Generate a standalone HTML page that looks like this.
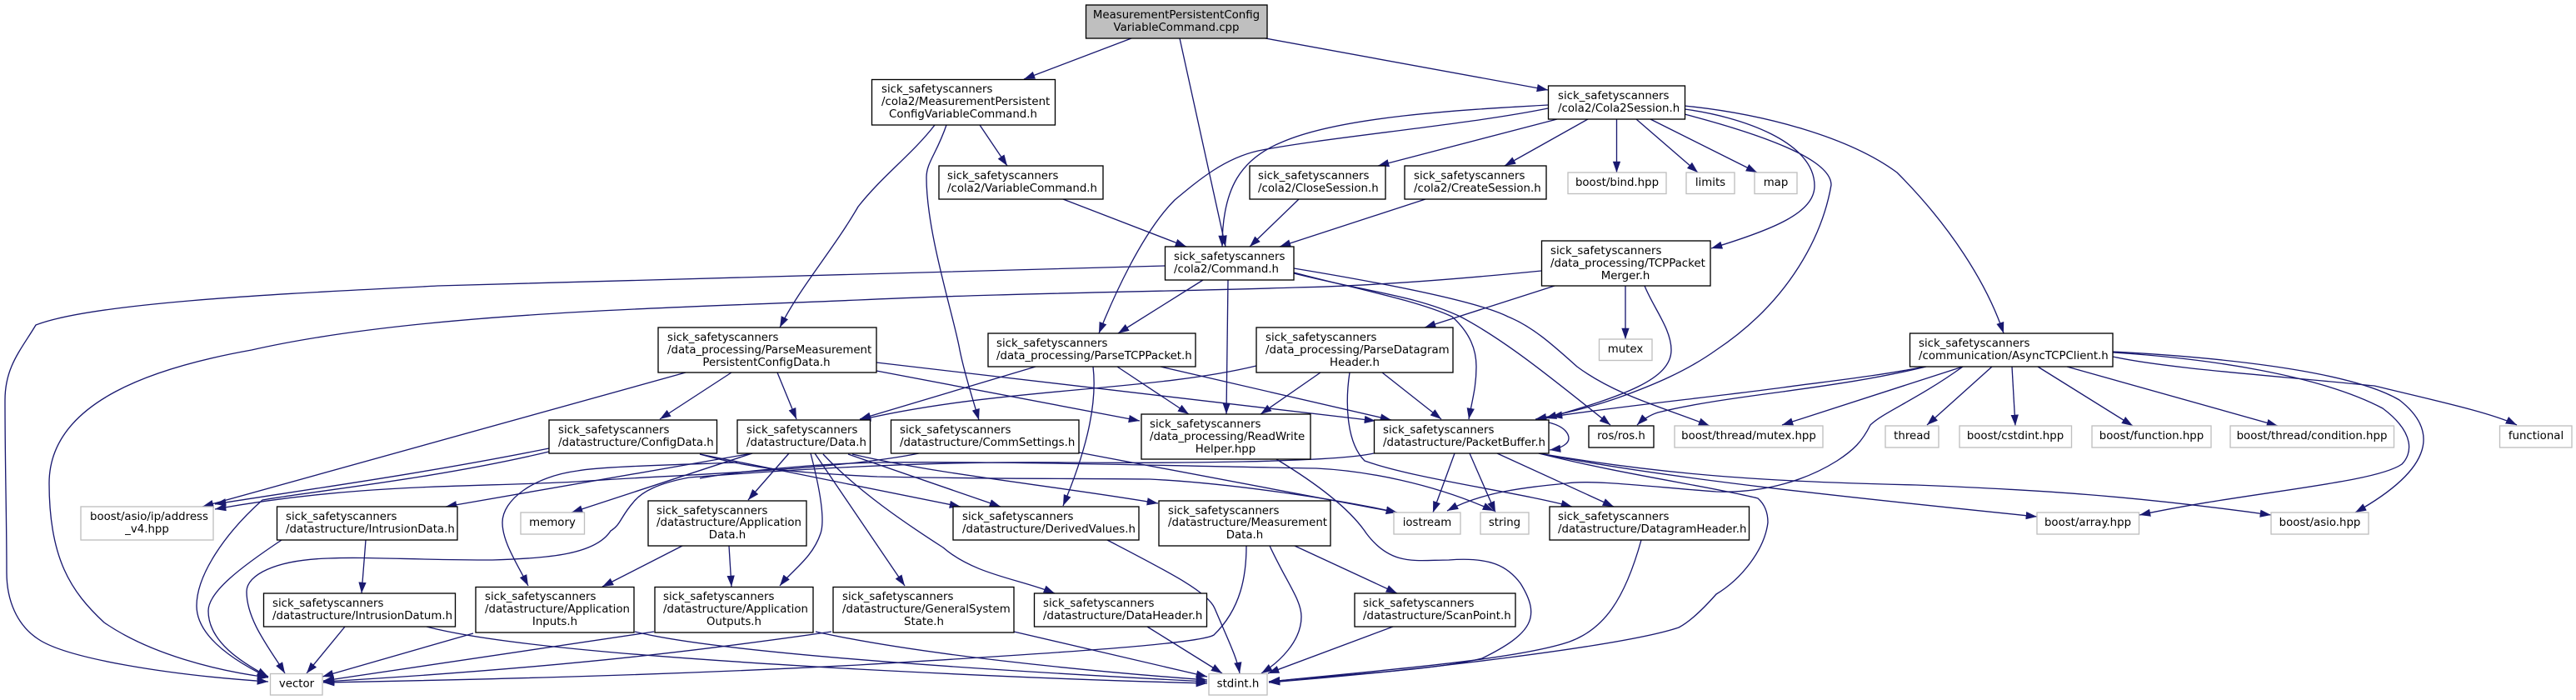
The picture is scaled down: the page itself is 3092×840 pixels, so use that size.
<!DOCTYPE html>
<html><head><meta charset="utf-8"><style>
html,body{margin:0;padding:0;background:#fff}
svg{display:block}
text{font-family:"DejaVu Sans",sans-serif;font-size:13.33px;fill:#000}
.m{text-anchor:middle}
.b rect{fill:#fff;stroke:#000;stroke-width:1.33}
.g rect{fill:#fff;stroke:#bfbfbf;stroke-width:1.33}
.e path{fill:none;stroke:#191970;stroke-width:1.33;marker-end:url(#a)}
</style></head><body>
<svg width="3092" height="840" viewBox="0 0 3092 840" xmlns="http://www.w3.org/2000/svg">
<defs><marker id="a" markerUnits="userSpaceOnUse" markerWidth="14" markerHeight="10" refX="13.3" refY="4.65" orient="auto"><path d="M0 0L13.3 4.65L0 9.3z" style="fill:#191970;stroke:none"/></marker></defs>
<rect width="3092" height="840" fill="#fff"/>
<g class="e">
<path d="M1358 46L1229 95"/>
<path d="M1416 46L1471 296"/>
<path d="M1519 46L1858 108"/>
<path d="M1176 150L1209 199"/>
<path d="M1122 150C1095 185 1060 210 1030 248C1000 300 960 345 936 393"/>
<path d="M1136 150C1124 185 1112 195 1112 213C1112 280 1145 380 1152 420C1158 450 1168 480 1175 504"/>
<path d="M1276 239L1424 296"/>
<path d="M1559 239L1500 296"/>
<path d="M1711 239L1536 296"/>
<path d="M1869 143L1654 199"/>
<path d="M1906 143L1806 199"/>
<path d="M1940.5 143L1940.5 207"/>
<path d="M1964 143L2038 207"/>
<path d="M1981 143L2109 207"/>
<path d="M1858 126C1750 132 1610 140 1540 170C1490 190 1467 225 1467 296"/>
<path d="M1858 130C1760 150 1590 165 1510 181C1470 190 1440 215 1410 240C1370 280 1335 360 1319 400"/>
<path d="M2022 127C2120 137 2220 165 2277 207C2340 270 2385 340 2405 400"/>
<path d="M2022 131C2090 140 2178 170 2178 223C2178 255 2130 275 2054 298"/>
<path d="M2022 137C2110 160 2198 190 2198 222C2188 280 2150 360 2060 420C2025 445 1985 462 1943 477C1915 487 1880 496 1843 503"/>
<path d="M1444 336L1342 400"/>
<path d="M1474 336L1472 497"/>
<path d="M1398 319C1200 325 1000 332 525 343C400 350 120 360 43 390C25 420 6 440 6 480C6 560 8 620 8 687C8 720 20 750 46 767C80 790 200 810 322 818"/>
<path d="M1850 325C1750 335 1650 343 1555 345C1400 350 1200 352 1030 360C800 370 500 375 302 420C190 440 59 480 59 580C59 670 85 710 125 747C180 785 260 805 322 813"/>
<path d="M1553 322C1650 338 1770 360 1810 380C1840 392 1865 415 1893 440C1940 475 2000 490 2052 511"/>
<path d="M1553 327C1620 345 1700 360 1743 380C1765 400 1772 420 1772 440C1772 465 1767 480 1763 503"/>
<path d="M1553 328C1640 350 1700 355 1753 380C1810 410 1870 460 1933 510"/>
<path d="M1866 343L1710 393"/>
<path d="M1951 343L1951 407"/>
<path d="M1974 343C1985 370 2006 395 2006 420C2006 455 1950 475 1855 502"/>
<path d="M2310 440C2250 452 2190 458 2140 465C2050 477 1950 487 1862 500"/>
<path d="M2312 440C2250 455 2190 463 2140 470C2080 478 2030 485 1990 495C1980 498 1970 505 1965 510"/>
<path d="M1243 440L1032 503"/>
<path d="M1341 440L1427 497"/>
<path d="M1393 440L1670 504"/>
<path d="M1312 440C1318 490 1300 550 1276 607"/>
<path d="M1508 439C1380 470 1200 465 1032 504"/>
<path d="M1585 447L1513 497"/>
<path d="M1659 447L1730 503"/>
<path d="M1620 447C1615 480 1615 530 1638 553C1700 575 1820 590 1887 608"/>
<path d="M933 447L956 503"/>
<path d="M878 447L792 503"/>
<path d="M823 447L243 608"/>
<path d="M1052 445L1368 505"/>
<path d="M1052 435L1651 505"/>
<path d="M659 538C500 570 350 590 258 605"/>
<path d="M659 542C520 575 370 590 315 600C270 640 236 690 236 727C236 765 285 795 322 813"/>
<path d="M840 545C900 562 950 567 1053 572C1200 575 1300 574 1380 575C1480 580 1610 600 1677 615"/>
<path d="M840 545L1153 608"/>
<path d="M903 544L535 608"/>
<path d="M903 544L686 615"/>
<path d="M947 544L898 600"/>
<path d="M973 544C985 590 990 625 985 640C975 670 950 685 936 703"/>
<path d="M885 555C800 558 720 560 693 565C640 572 603 600 603 627C603 650 620 675 634 703"/>
<path d="M978 544L1086 703"/>
<path d="M988 545C1030 590 1090 630 1132 657C1170 690 1225 695 1266 712"/>
<path d="M1018 545L1201 608"/>
<path d="M1023 545C1130 570 1260 582 1390 604"/>
<path d="M1295 543L1677 615"/>
<path d="M1103 544C1000 565 800 570 693 578C560 585 430 580 258 611"/>
<path d="M1649 544C1600 555 1400 556 1280 555C1100 553 930 565 827 573C790 580 770 590 760 603C745 620 745 630 733 637C715 665 660 670 591 672C500 672 440 668 394 670C330 672 296 690 296 710C296 745 325 780 342 808"/>
<path d="M840 574C900 563 1000 556 1053 555C1200 553 1450 560 1580 562C1640 565 1720 580 1793 613"/>
<path d="M439 648L434 712"/>
<path d="M338 648C290 680 250 710 250 733C250 770 290 795 322 812"/>
<path d="M414 752L368 808"/>
<path d="M512 752C600 775 800 790 1030 803C1200 812 1330 817 1449 820"/>
<path d="M819 655L723 704"/>
<path d="M875 655L878 704"/>
<path d="M568 760L387 812"/>
<path d="M762 758C850 780 1100 800 1449 818"/>
<path d="M785 758L388 817"/>
<path d="M979 758C1100 785 1300 805 1449 816"/>
<path d="M998 758C880 775 700 800 388 818"/>
<path d="M1217 758L1449 812"/>
<path d="M1377 752L1467 808"/>
<path d="M1329 648C1400 685 1450 710 1458 730C1475 770 1485 790 1488 808"/>
<path d="M1496 655C1496 690 1490 730 1457 762C1440 772 1300 782 1030 798C800 810 600 815 388 819"/>
<path d="M1524 655C1545 700 1562 720 1562 740C1562 770 1535 795 1514 808"/>
<path d="M1554 655L1677 712"/>
<path d="M1672 752L1522 808"/>
<path d="M1970 648C1950 720 1925 755 1884 770C1820 792 1650 805 1523 818"/>
<path d="M1532 551C1580 580 1620 610 1640 640C1670 680 1700 672 1739 672C1790 668 1810 680 1825 700C1850 740 1840 760 1779 790C1720 805 1600 810 1523 818"/>
<path d="M1847 544C1950 570 2060 585 2110 598C2118 605 2122 615 2122 627C2118 660 2090 695 2060 713C2045 730 2030 745 2015 753C1950 775 1700 805 1523 819"/>
<path d="M1847 544C2000 575 2250 600 2445 620"/>
<path d="M1847 544C2000 570 2120 578 2300 582C2450 588 2560 595 2726 618"/>
<path d="M1797 544L1937 608"/>
<path d="M1746 544L1720 615"/>
<path d="M1764 544L1795 615"/>
<path d="M1859 507C1880 512 1883 522 1883 526C1883 532 1875 538 1860 540"/>
<path d="M2356 440C2300 480 2260 495 2245 510C2235 530 2225 540 2205 553C2170 575 2120 592 2060 590C1990 585 1910 575 1880 580C1830 585 1780 590 1737 613"/>
<path d="M2356 440L2139 510"/>
<path d="M2391 440L2313 510"/>
<path d="M2415 440L2419 511"/>
<path d="M2446 440L2560 511"/>
<path d="M2481 440L2734 511"/>
<path d="M2536 428C2600 442 2720 450 2850 463C2920 480 2990 495 3021 510"/>
<path d="M2536 423C2650 430 2784 450 2860 490C2900 520 2895 545 2883 557C2850 580 2700 590 2568 618"/>
<path d="M2536 422C2650 428 2817 443 2880 480C2925 515 2925 560 2827 615"/>
</g>
<g class="b">
<rect x="1303.5" y="6" width="217.5" height="40" style="fill:#bfbfbf"/>
<text x="1412" y="22" class="m">MeasurementPersistentConfig</text><text x="1412" y="37" class="m">VariableCommand.cpp</text>
<rect x="1046.5" y="95.5" width="220" height="54.5"/>
<text x="1058" y="111">sick_safetyscanners</text><text x="1058" y="126">/cola2/MeasurementPersistent</text><text x="1156" y="141" class="m">ConfigVariableCommand.h</text>
<rect x="1858.5" y="103" width="164" height="40"/>
<text x="1870" y="119">sick_safetyscanners</text><text x="1870" y="134">/cola2/Cola2Session.h</text>
<rect x="1127" y="199" width="197" height="40"/>
<text x="1137" y="215">sick_safetyscanners</text><text x="1137" y="230">/cola2/VariableCommand.h</text>
<rect x="1500" y="199" width="163" height="40"/>
<text x="1510" y="215">sick_safetyscanners</text><text x="1510" y="230">/cola2/CloseSession.h</text>
<rect x="1686" y="199" width="170" height="40"/>
<text x="1697" y="215">sick_safetyscanners</text><text x="1697" y="230">/cola2/CreateSession.h</text>
<rect x="1398.5" y="296" width="154.5" height="40"/>
<text x="1409" y="312">sick_safetyscanners</text><text x="1409" y="327">/cola2/Command.h</text>
<rect x="1850.5" y="289" width="202.5" height="54"/>
<text x="1861" y="305">sick_safetyscanners</text><text x="1861" y="320">/data_processing/TCPPacket</text><text x="1951" y="335" class="m">Merger.h</text>
<rect x="1186" y="400" width="249" height="40"/>
<text x="1196" y="416">sick_safetyscanners</text><text x="1196" y="431">/data_processing/ParseTCPPacket.h</text>
<rect x="1508" y="393" width="236" height="54"/>
<text x="1519" y="409">sick_safetyscanners</text><text x="1519" y="424">/data_processing/ParseDatagram</text><text x="1626" y="439" class="m">Header.h</text>
<rect x="790" y="393" width="262" height="54"/>
<text x="801" y="409">sick_safetyscanners</text><text x="801" y="424">/data_processing/ParseMeasurement</text><text x="920" y="439" class="m">PersistentConfigData.h</text>
<rect x="2292.5" y="400" width="243.5" height="40"/>
<text x="2303" y="416">sick_safetyscanners</text><text x="2303" y="431">/communication/AsyncTCPClient.h</text>
<rect x="659" y="504" width="201.5" height="40"/>
<text x="670" y="520">sick_safetyscanners</text><text x="670" y="535">/datastructure/ConfigData.h</text>
<rect x="885" y="504" width="159.5" height="40"/>
<text x="896" y="520">sick_safetyscanners</text><text x="896" y="535">/datastructure/Data.h</text>
<rect x="1069.5" y="504" width="225.5" height="40"/>
<text x="1080" y="520">sick_safetyscanners</text><text x="1080" y="535">/datastructure/CommSettings.h</text>
<rect x="1370" y="497" width="203" height="54"/>
<text x="1380" y="513">sick_safetyscanners</text><text x="1380" y="528">/data_processing/ReadWrite</text><text x="1471" y="543" class="m">Helper.hpp</text>
<rect x="1649.5" y="504" width="209.5" height="40"/>
<text x="1660" y="520">sick_safetyscanners</text><text x="1660" y="535">/datastructure/PacketBuffer.h</text>
<rect x="1907" y="511" width="78" height="26"/>
<text x="1946" y="527" class="m">ros/ros.h</text>
<rect x="332.5" y="608" width="216.5" height="40"/>
<text x="343" y="624">sick_safetyscanners</text><text x="343" y="639">/datastructure/IntrusionData.h</text>
<rect x="778" y="601" width="190" height="54"/>
<text x="788" y="617">sick_safetyscanners</text><text x="788" y="631">/datastructure/Application</text><text x="873" y="646" class="m">Data.h</text>
<rect x="1144" y="608" width="223" height="40"/>
<text x="1155" y="624">sick_safetyscanners</text><text x="1155" y="639">/datastructure/DerivedValues.h</text>
<rect x="1391" y="601" width="206" height="54"/>
<text x="1402" y="617">sick_safetyscanners</text><text x="1402" y="631">/datastructure/Measurement</text><text x="1494" y="646" class="m">Data.h</text>
<rect x="1860" y="608" width="239.5" height="40"/>
<text x="1870" y="624">sick_safetyscanners</text><text x="1870" y="639">/datastructure/DatagramHeader.h</text>
<rect x="316.5" y="712" width="230" height="40"/>
<text x="327" y="728">sick_safetyscanners</text><text x="327" y="743">/datastructure/IntrusionDatum.h</text>
<rect x="571" y="704.5" width="190" height="54.5"/>
<text x="582" y="720">sick_safetyscanners</text><text x="582" y="735">/datastructure/Application</text><text x="666" y="750" class="m">Inputs.h</text>
<rect x="786" y="704.5" width="190" height="54.5"/>
<text x="796" y="720">sick_safetyscanners</text><text x="796" y="735">/datastructure/Application</text><text x="881" y="750" class="m">Outputs.h</text>
<rect x="1000" y="704.5" width="217" height="54.5"/>
<text x="1011" y="720">sick_safetyscanners</text><text x="1011" y="735">/datastructure/GeneralSystem</text><text x="1109" y="750" class="m">State.h</text>
<rect x="1241.5" y="712" width="207" height="40"/>
<text x="1252" y="728">sick_safetyscanners</text><text x="1252" y="743">/datastructure/DataHeader.h</text>
<rect x="1626" y="712" width="193" height="40"/>
<text x="1636" y="728">sick_safetyscanners</text><text x="1636" y="743">/datastructure/ScanPoint.h</text>
</g>
<g class="g">
<rect x="1882" y="207" width="118" height="25.5"/><text x="1941" y="223" class="m">boost/bind.hpp</text>
<rect x="2024" y="207" width="58" height="25.5"/><text x="2053" y="223" class="m">limits</text>
<rect x="2106" y="207" width="51" height="25.5"/><text x="2131.5" y="223" class="m">map</text>
<rect x="1919.5" y="407" width="63.5" height="25.5"/><text x="1951" y="423" class="m">mutex</text>
<rect x="2010" y="511" width="178" height="26"/><text x="2099" y="527" class="m">boost/thread/mutex.hpp</text>
<rect x="2263" y="511" width="64" height="26"/><text x="2295" y="527" class="m">thread</text>
<rect x="2352" y="511" width="134.5" height="26"/><text x="2419" y="527" class="m">boost/cstdint.hpp</text>
<rect x="2511" y="511" width="143" height="26"/><text x="2582.5" y="527" class="m">boost/function.hpp</text>
<rect x="2677" y="511" width="196.5" height="26"/><text x="2775" y="527" class="m">boost/thread/condition.hpp</text>
<rect x="3000.5" y="511" width="86.5" height="26"/><text x="3044" y="527" class="m">functional</text>
<rect x="97" y="608" width="159" height="40"/><text x="108" y="624">boost/asio/ip/address</text><text x="176.5" y="639" class="m">_v4.hpp</text>
<rect x="625" y="615" width="76.5" height="26"/><text x="663" y="631" class="m">memory</text>
<rect x="1673" y="615" width="80" height="26"/><text x="1713" y="631" class="m">iostream</text>
<rect x="1777" y="615" width="58" height="26"/><text x="1806" y="631" class="m">string</text>
<rect x="2445" y="615" width="122.5" height="26"/><text x="2506" y="631" class="m">boost/array.hpp</text>
<rect x="2726" y="615" width="117" height="26"/><text x="2784.5" y="631" class="m">boost/asio.hpp</text>
<rect x="324.5" y="808.5" width="62.5" height="25.5"/><text x="356" y="824.5" class="m">vector</text>
<rect x="1451" y="808.5" width="70" height="25.5"/><text x="1486" y="824.5" class="m">stdint.h</text>
</g>
</svg>
</body></html>
